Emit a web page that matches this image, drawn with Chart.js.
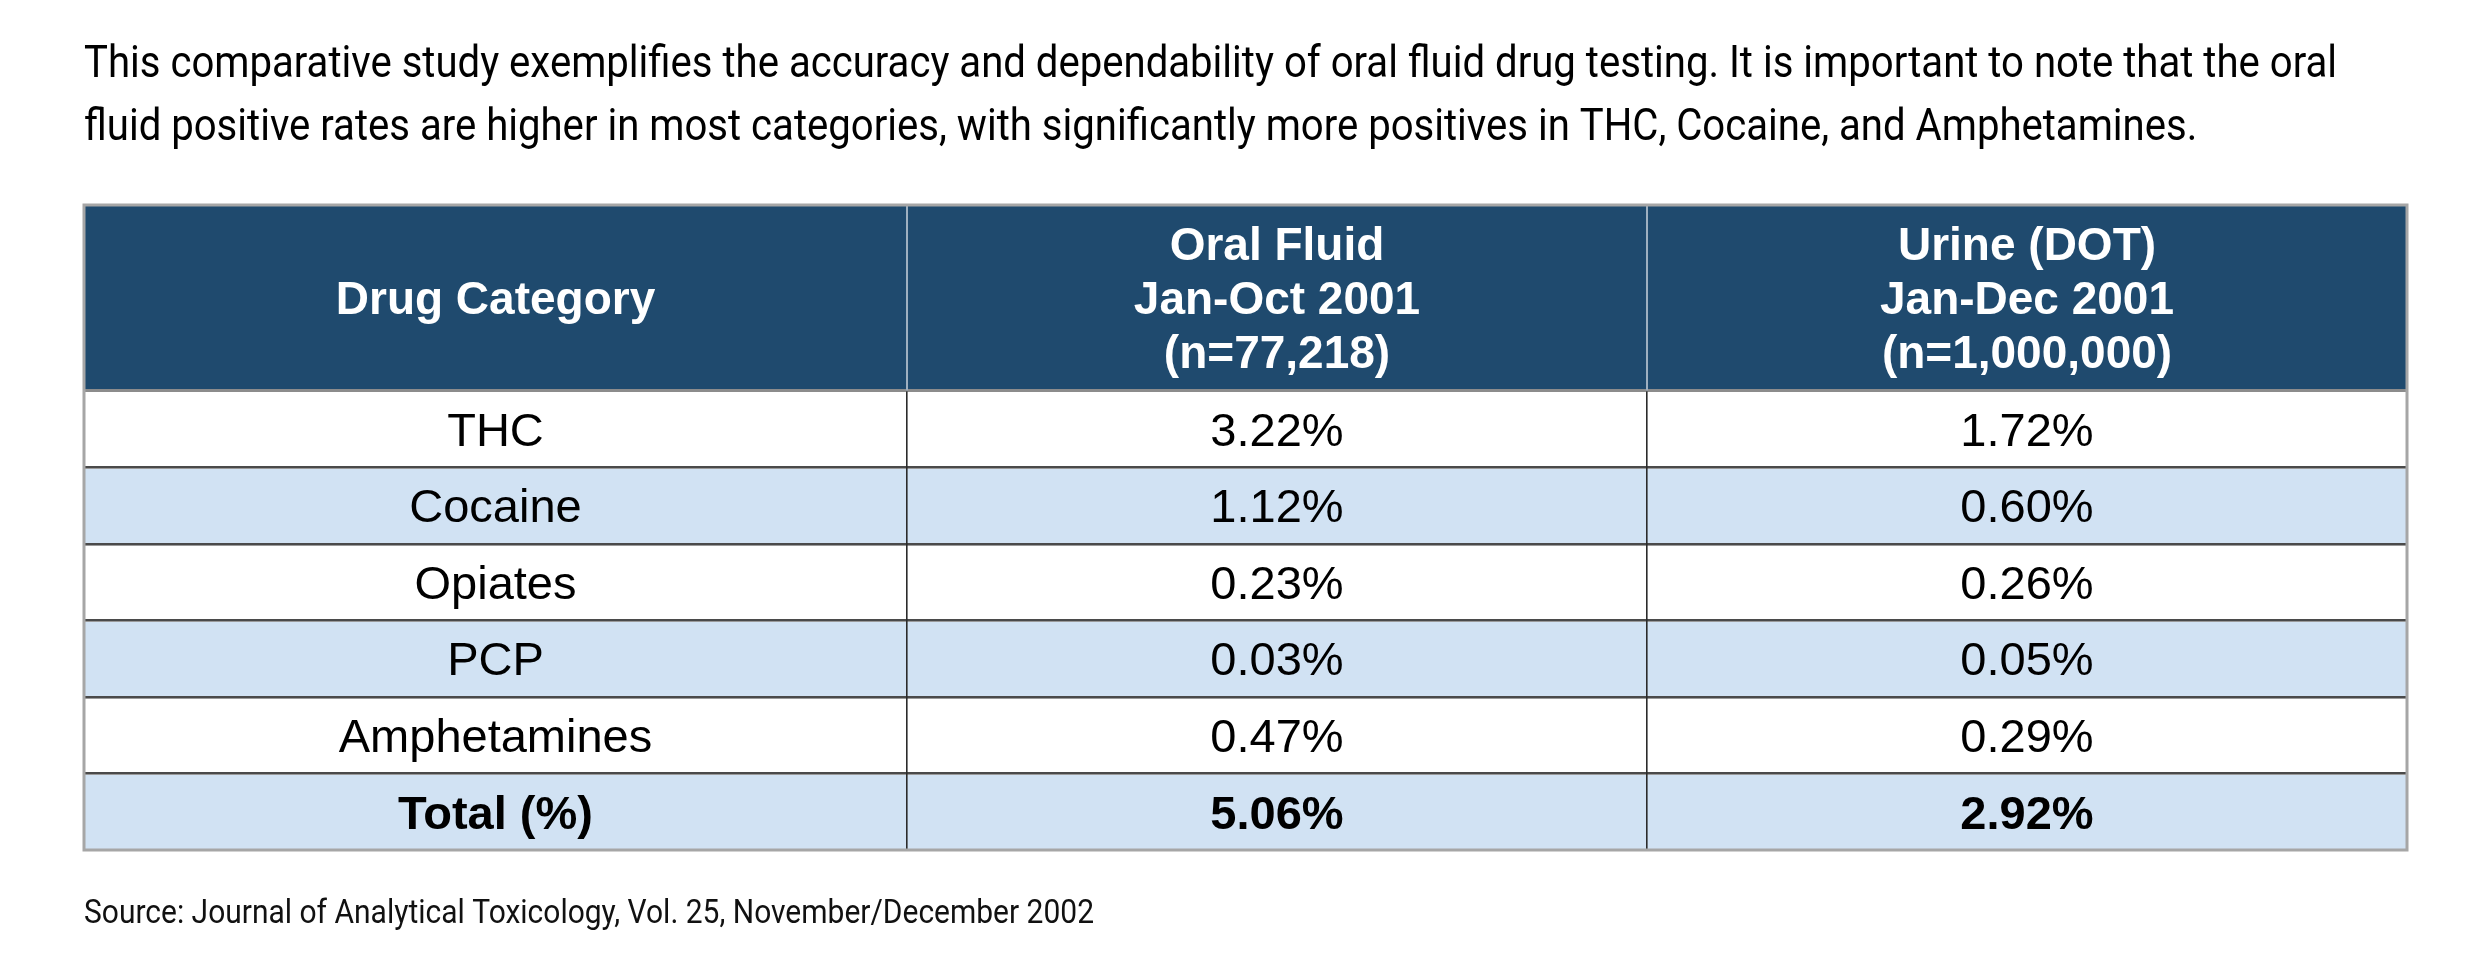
<!DOCTYPE html>
<html>
<head>
<meta charset="utf-8">
<script src="https://cdn.jsdelivr.net/npm/chart.js@4/dist/chart.umd.min.js"></script>
<style>
html,body{margin:0;padding:0;background:#fff;}
canvas{display:block;}
</style>
</head>
<body>
<canvas id="c" width="2486" height="958"></canvas>
<script>
// ---- data ----
const categories = ['THC', 'Cocaine', 'Opiates', 'PCP', 'Amphetamines', 'Total (%)'];
const oralFluid = [3.22, 1.12, 0.23, 0.03, 0.47, 5.06];
const urineDot = [1.72, 0.60, 0.26, 0.05, 0.29, 2.92];
const columnHeaders = [
  ['Drug Category'],
  ['Oral Fluid', 'Jan-Oct 2001', '(n=77,218)'],
  ['Urine (DOT)', 'Jan-Dec 2001', '(n=1,000,000)']
];
const introLines = [
  'This comparative study exemplifies the accuracy and dependability of oral fluid drug testing. It is important to note that the oral',
  'fluid positive rates are higher in most categories, with significantly more positives in THC, Cocaine, and Amphetamines.'
];
const sourceText = 'Source: Journal of Analytical Toxicology, Vol. 25, November/December 2002';

// ---- layout / style ----
const COL_WEIGHTS = [823, 740, 760];
const HEADER_WEIGHT = 2.42;
const HEADER_BG = '#1F4A6E';
const STRIPE_BG = '#D1E2F3';
const TABLE_FONT = '"Liberation Sans", Arial, sans-serif';
const TEXT_FONT = 'Roboto, "Noto Sans", sans-serif';
const HEADER_SIZE = 46;
const BODY_SIZE = 47;

const colEdges = [0];
COL_WEIGHTS.forEach((w, i) => colEdges.push(colEdges[i] + w));
const rowEdges = [0, HEADER_WEIGHT];
categories.forEach((_, i) => rowEdges.push(HEADER_WEIGHT + i + 1));

function drawFit(ctx, text, x, y, font, targetWidth) {
  ctx.font = font;
  const w = ctx.measureText(text).width;
  const sx = targetWidth / w;
  ctx.save();
  ctx.translate(x, y);
  ctx.scale(sx, 1);
  ctx.textAlign = 'left';
  ctx.fillText(text, 0, 0);
  ctx.restore();
  return sx;
}

const tablePlugin = {
  id: 'tablePlugin',
  afterDraw(chart) {
    const ctx = chart.ctx;
    const xs = chart.scales.x, ys = chart.scales.y;
    const X = v => xs.getPixelForValue(v);
    const Y = v => ys.getPixelForValue(v);
    const labels = chart.data.labels;
    const series = chart.data.datasets.map(d => d.data);
    const nCols = colEdges.length - 1;
    const x0 = X(0), x1 = X(colEdges[nCols]);

    ctx.save();
    // intro paragraph
    ctx.fillStyle = '#000';
    ctx.textBaseline = 'alphabetic';
    const sx = drawFit(ctx, introLines[0], x0, 77, '45px ' + TEXT_FONT, 2253);
    ctx.font = '45px ' + TEXT_FONT;
    ctx.save(); ctx.translate(x0, 140); ctx.scale(sx, 1); ctx.fillText(introLines[1], 0, 0); ctx.restore();
    // source
    ctx.fillStyle = '#111';
    drawFit(ctx, sourceText, x0, 923, '34px ' + TEXT_FONT, 1010);

    // header fill
    ctx.fillStyle = HEADER_BG;
    ctx.fillRect(x0, Y(0), x1 - x0, Y(HEADER_WEIGHT) - Y(0));
    // body fills
    labels.forEach((lab, r) => {
      ctx.fillStyle = (r % 2 === 1) ? STRIPE_BG : '#FFFFFF';
      const ya = Y(rowEdges[r + 1]), yb = Y(rowEdges[r + 2]);
      ctx.fillRect(x0, ya, x1 - x0, yb - ya);
    });

    // horizontal lines between body rows
    for (let r = 1; r < labels.length; r++) {
      const y = Math.round(Y(rowEdges[r + 1]));
      ctx.fillStyle = '#4a4a4a';
      ctx.fillRect(x0, y - 1, x1 - x0, 2);
      ctx.fillStyle = '#9a9a9a';
      ctx.fillRect(x0, y + 1, x1 - x0, 1);
    }
    // header bottom line
    ctx.fillStyle = '#8c8c8c';
    ctx.fillRect(x0, Math.round(Y(HEADER_WEIGHT)) - 1, x1 - x0, 3);

    // vertical dividers
    for (let c = 1; c < nCols; c++) {
      const x = Math.round(X(colEdges[c]));
      ctx.fillStyle = '#9fb0c0';
      ctx.fillRect(x - 1, Y(0), 2, Y(HEADER_WEIGHT) - Y(0));
      ctx.fillStyle = '#2b2b2b';
      ctx.fillRect(x - 1, Y(HEADER_WEIGHT) + 1, 1.6, Y(rowEdges[rowEdges.length - 1]) - Y(HEADER_WEIGHT) - 1);
    }

    // outer border
    ctx.strokeStyle = '#A6A6A6';
    ctx.lineWidth = 3;
    const yTop = Y(0), yBot = Y(rowEdges[rowEdges.length - 1]);
    ctx.strokeRect(x0, yTop, x1 - x0, yBot - yTop);

    // header text
    ctx.fillStyle = '#FFFFFF';
    ctx.textAlign = 'center';
    ctx.font = 'bold ' + HEADER_SIZE + 'px ' + TABLE_FONT;
    const hc = (Y(0) + Y(HEADER_WEIGHT)) / 2;
    columnHeaders.forEach((lines, c) => {
      const cx = (X(colEdges[c]) + X(colEdges[c + 1])) / 2;
      const n = lines.length;
      lines.forEach((t, i) => {
        ctx.fillText(t, cx, hc + 16 + (i - (n - 1) / 2) * 54);
      });
    });

    // body text
    ctx.fillStyle = '#000';
    labels.forEach((lab, r) => {
      const bold = r === labels.length - 1;
      ctx.font = (bold ? 'bold ' : '') + BODY_SIZE + 'px ' + TABLE_FONT;
      const cy = (Y(rowEdges[r + 1]) + Y(rowEdges[r + 2])) / 2 + 17;
      const cells = [lab].concat(series.map(s => s[r].toFixed(2) + '%'));
      cells.forEach((t, c) => {
        const cx = (X(colEdges[c]) + X(colEdges[c + 1])) / 2;
        ctx.fillText(t, cx, cy);
      });
    });
    ctx.restore();
  }
};

function build() {
  new Chart(document.getElementById('c'), {
    type: 'bar',
    data: {
      labels: categories,
      datasets: [
        { label: 'Oral Fluid Jan-Oct 2001 (n=77,218)', data: oralFluid, hidden: true },
        { label: 'Urine (DOT) Jan-Dec 2001 (n=1,000,000)', data: urineDot, hidden: true }
      ]
    },
    options: {
      responsive: false,
      animation: false,
      events: [],
      layout: { padding: { left: 84, right: 79, top: 205, bottom: 108 } },
      plugins: { legend: { display: false }, title: { display: false }, tooltip: { enabled: false } },
      scales: {
        x: { type: 'linear', display: false, offset: false, min: 0, max: colEdges[colEdges.length - 1] },
        y: { type: 'linear', display: false, offset: false, reverse: true, min: 0, max: rowEdges[rowEdges.length - 1] }
      }
    },
    plugins: [tablePlugin]
  });
}
if (document.fonts && document.fonts.load) {
  Promise.all([
    document.fonts.load('45px Roboto'),
    document.fonts.load('45px "Liberation Sans"'),
    document.fonts.load('bold 45px "Liberation Sans"')
  ]).then(build, build);
} else { build(); }
</script>
</body>
</html>
